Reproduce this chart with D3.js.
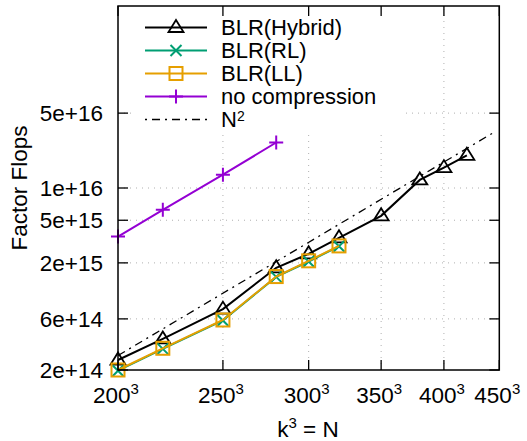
<!DOCTYPE html>
<html>
<head>
<meta charset="utf-8">
<script src="https://cdn.jsdelivr.net/npm/d3@7"></script>
<style>
  html, body { margin: 0; padding: 0; background: #fff; }
  svg text { font-family: "Liberation Sans", Arial, Helvetica, sans-serif; fill: #000; }
</style>
</head>
<body>
<svg id="chart" width="527" height="441"></svg>
<script>
// ---- data (k values; N = k^3) ----
const kHybrid = [200, 220, 250, 280, 300, 320, 350, 380, 400, 420];
const flopsHybrid = [2.48e14, 3.9e14, 7.4e14, 1.8e15, 2.43e15, 3.43e15, 5.5e15, 1.19e16, 1.55e16, 2.02e16];
const kRL = [200, 220, 250, 280, 300, 320];
const flopsRL = [1.97e14, 3.15e14, 5.8e14, 1.48e15, 2.06e15, 2.86e15];
const kLL = [200, 220, 250, 280, 300, 320];
const flopsLL = [2.0e14, 3.19e14, 5.86e14, 1.49e15, 2.09e15, 2.88e15];
const kNoComp = [200, 220, 250, 280];
const flopsNoComp = [3.52e15, 6.26e15, 1.33e16, 2.66e16];
const kN2 = [200, 444];
const n2Coef = 2.73e14; // value of reference N^2 line at k = 200

const xTickK = [200, 250, 300, 350, 400, 450];
const yTicks = [2e14, 6e14, 2e15, 5e15, 1e16, 5e16];
const yTickLabels = ["2e+14", "6e+14", "2e+15", "5e+15", "1e+16", "5e+16"];
const legendLabels = ["BLR(Hybrid)", "BLR(RL)", "BLR(LL)", "no compression", "N"];

// ---- layout ----
const L = 118, R = 499.3, T = 6, B = 370;
const svg = d3.select("#chart");
const x = d3.scaleLog().domain([200 ** 3, 450 ** 3]).range([L, R]);
const y = d3.scaleLog().domain([2e14, 5e17]).range([B, T]);
const fs = 22.5;
const lfs = 22;

// grid (dotted)
const grid = svg.append("g").attr("stroke", "#b0b0b0").attr("stroke-width", 1).attr("stroke-dasharray", "1,5");
xTickK.slice(1, -1).forEach(k => {
  grid.append("line").attr("x1", x(k ** 3)).attr("x2", x(k ** 3)).attr("y1", B).attr("y2", T);
});
yTicks.slice(1).forEach(v => {
  grid.append("line").attr("x1", L).attr("x2", R).attr("y1", y(v)).attr("y2", y(v));
});

// data
const colors = { hyb: "#000000", rl: "#009e73", ll: "#e69f00", nc: "#9400d3" };
const line = d3.line().x(d => x(d[0] ** 3)).y(d => y(d[1]));
const plot = svg.append("g");

// N^2 reference
const n2Data = kN2.map(k => [k, n2Coef * Math.pow(k / 200, 6)]);
plot.append("path").datum(n2Data).attr("d", line).attr("fill", "none")
  .attr("stroke", "#000").attr("stroke-width", 1.3).attr("stroke-dasharray", "8,5,2,5");

function series(ks, vs, color, marker) {
  const data = ks.map((k, i) => [k, vs[i]]);
  plot.append("path").datum(data).attr("d", line).attr("fill", "none")
    .attr("stroke", color).attr("stroke-width", 2);
  data.forEach(d => drawMarker(plot, x(d[0] ** 3), y(d[1]), color, marker));
}

function drawMarker(g, cx, cy, color, type) {
  if (type === "tri") {
    const s = 7.5;
    g.append("path").attr("d", `M${cx},${cy - s}L${cx + s},${cy + s * 0.6}L${cx - s},${cy + s * 0.6}Z`)
      .attr("fill", "none").attr("stroke", color).attr("stroke-width", 1.8);
  } else if (type === "x") {
    const s = 5.5;
    g.append("path").attr("d", `M${cx - s},${cy - s}L${cx + s},${cy + s}M${cx - s},${cy + s}L${cx + s},${cy - s}`)
      .attr("stroke", color).attr("stroke-width", 2);
  } else if (type === "sq") {
    const s = 6.5;
    g.append("rect").attr("x", cx - s).attr("y", cy - s).attr("width", 2 * s).attr("height", 2 * s)
      .attr("fill", "none").attr("stroke", color).attr("stroke-width", 2);
  } else if (type === "plus") {
    const s = 7;
    g.append("path").attr("d", `M${cx - s},${cy}L${cx + s},${cy}M${cx},${cy - s}L${cx},${cy + s}`)
      .attr("stroke", color).attr("stroke-width", 2);
  }
}

series(kNoComp, flopsNoComp, colors.nc, "plus");
series(kHybrid, flopsHybrid, colors.hyb, "tri");
series(kRL, flopsRL, colors.rl, "x");
series(kLL, flopsLL, colors.ll, "sq");

// legend (opaque box)
svg.append("rect").attr("x", 131).attr("y", T + 1).attr("width", 271).attr("height", 126).attr("fill", "#fff");
const lg = svg.append("g");
const legMarkers = ["tri", "x", "sq", "plus", null];
const legColors = [colors.hyb, colors.rl, colors.ll, colors.nc, "#000"];
legendLabels.forEach((lab, i) => {
  const ly = 27.5 + i * 23;
  if (i < 4) {
    lg.append("line").attr("x1", 145).attr("x2", 207).attr("y1", ly).attr("y2", ly)
      .attr("stroke", legColors[i]).attr("stroke-width", 2);
    drawMarker(lg, 176, ly, legColors[i], legMarkers[i]);
  } else {
    lg.append("line").attr("x1", 145).attr("x2", 207).attr("y1", ly).attr("y2", ly)
      .attr("stroke", "#000").attr("stroke-width", 1.3).attr("stroke-dasharray", "2,5,8,5");
  }
  const t = lg.append("text").attr("x", 221).attr("y", ly).attr("dy", "0.36em").attr("font-size", lfs).text(lab);
  if (i === 4) t.append("tspan").attr("font-size", 14).attr("dy", "-0.45em").text("2");
});

// frame
svg.append("rect").attr("x", L).attr("y", T).attr("width", R - L).attr("height", B - T)
  .attr("fill", "none").attr("stroke", "#000").attr("stroke-width", 1.5);

// ticks (inward, mirrored)
const tl = 10;
const tk = svg.append("g").attr("stroke", "#000").attr("stroke-width", 1.3);
xTickK.forEach(k => {
  const px = x(k ** 3);
  tk.append("line").attr("x1", px).attr("x2", px).attr("y1", B).attr("y2", B - tl);
  tk.append("line").attr("x1", px).attr("x2", px).attr("y1", T).attr("y2", T + tl);
});
yTicks.forEach(v => {
  const py = y(v);
  tk.append("line").attr("x1", L).attr("x2", L + tl).attr("y1", py).attr("y2", py);
  tk.append("line").attr("x1", R).attr("x2", R - tl).attr("y1", py).attr("y2", py);
});

// tick labels
xTickK.forEach(k => {
  const t = svg.append("text").attr("x", x(k ** 3) - 2).attr("y", 403).attr("text-anchor", "middle")
    .attr("font-size", fs).text(String(k));
  t.append("tspan").attr("font-size", 15).attr("dy", "-0.6em").text("3");
});
yTicks.forEach((v, i) => {
  svg.append("text").attr("x", 103).attr("y", y(v)).attr("dy", "0.36em").attr("text-anchor", "end")
    .attr("font-size", fs).text(yTickLabels[i]);
});

// axis titles
const xt = svg.append("text").attr("x", 308).attr("y", 437).attr("text-anchor", "middle").attr("font-size", fs).text("k");
xt.append("tspan").attr("font-size", 15).attr("dy", "-0.6em").text("3");
xt.append("tspan").attr("dy", "0.4em").text(" = N");
svg.append("text").attr("transform", "translate(27,188) rotate(-90)").attr("text-anchor", "middle")
  .attr("font-size", fs).text("Factor Flops");
</script>
</body>
</html>
